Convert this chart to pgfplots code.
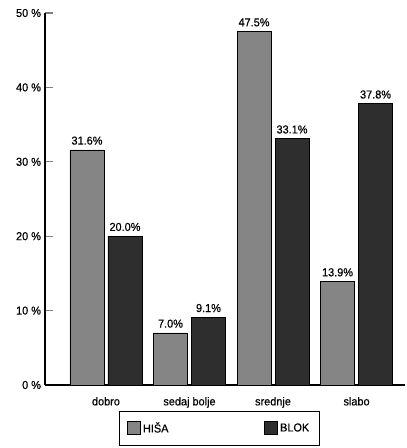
\documentclass[border=0pt]{standalone}
\usepackage{fontspec}
\setmainfont{Liberation Sans}[FakeBold=0.5,FakeStretch=0.95]
\usepackage{pgfplots}
\pgfplotsset{compat=1.18}
\definecolor{hisa}{HTML}{858585}
\definecolor{blok}{HTML}{2E2E2E}
\begin{document}
\fontsize{11.5pt}{13pt}\selectfont
\begin{tikzpicture}[x=1pt,y=1pt]
\useasboundingbox (0,0) rectangle (407,448);
\begin{axis}[
  at={(45pt,63pt)}, anchor=south west,
  scale only axis, width=360pt, height=372pt,
  xmin=-0.73, xmax=3.58, ymin=0, ymax=50,
  axis lines=left, axis line style={-, line width=1.3pt},
  xtick={0,1,2,3}, xticklabels={dobro, sedaj bolje, srednje, slabo},
  xtick style={draw=none},
  ytick={0,10,20,30,40,50},
  yticklabel={\pgfmathprintnumber{\tick}~\%},
  /pgf/number format/assume math mode=true,
  ytick style={line width=1.3pt}, major tick length=8pt, tick align=inside,
  ybar, bar width=34pt,
  nodes near coords={\pgfmathprintnumber[fixed,fixed zerofill,precision=1]{\pgfplotspointmeta}\%},
  every node near coord/.append style={font=\fontsize{11.5pt}{13pt}\selectfont, yshift=1pt},
  legend columns=2,
  legend style={at={(74pt,-26pt)}, anchor=north west, draw=black, line width=0.8pt,
    inner xsep=8pt, inner ysep=9pt, font=\fontsize{11.5pt}{13pt}\selectfont,
    /tikz/every even column/.append style={column sep=94pt}},
  legend image code/.code={\draw[#1, line width=0.6pt] (0pt,-6pt) rectangle (13pt,7pt);},
  tick label style={font=\fontsize{11.5pt}{13pt}\selectfont},
]
\addplot[fill=hisa, draw=black, line width=0.7pt, bar shift=-19pt] coordinates {(0,31.6) (1,7.0) (2,47.5) (3,13.9)};
\addplot[fill=blok, draw=black, line width=0.7pt, bar shift=19pt] coordinates {(0,20.0) (1,9.1) (2,33.1) (3,37.8)};
\legend{HIŠA, BLOK}
\end{axis}
\end{tikzpicture}
\end{document}
